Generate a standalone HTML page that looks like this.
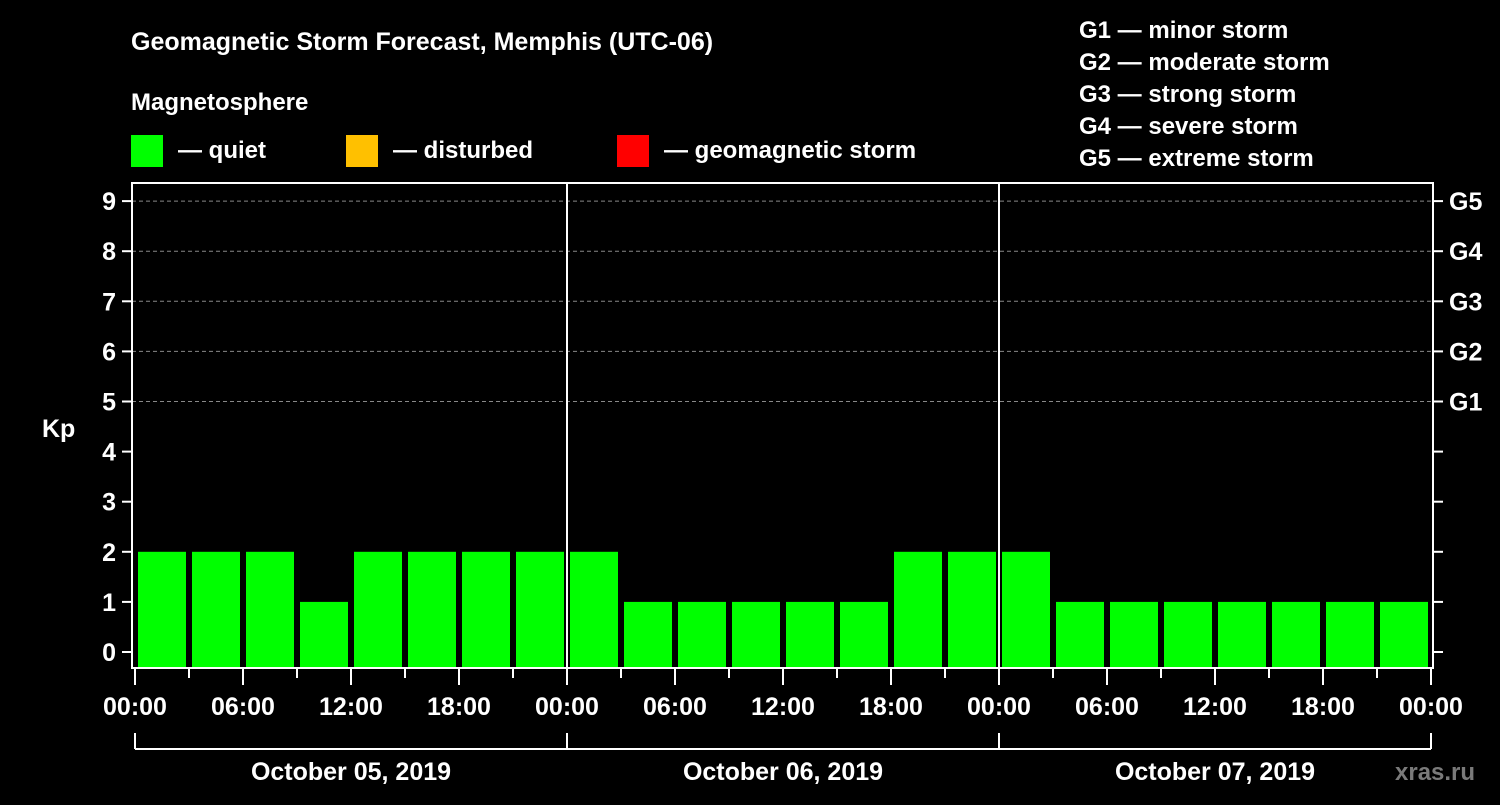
<!DOCTYPE html>
<html><head><meta charset="utf-8"><style>
html,body{margin:0;padding:0;background:#000;}
svg text{font-family:"Liberation Sans",Arial,sans-serif;font-weight:bold;fill:#fff;}
</style></head><body>
<svg width="1500" height="800" viewBox="0 0 1500 800">
<rect width="1500" height="800" fill="#000"/>
<text x="131" y="50" font-size="25">Geomagnetic Storm Forecast, Memphis (UTC-06)</text>
<text x="131" y="110" font-size="24">Magnetosphere</text>
<rect x="131" y="135" width="32" height="32" fill="#00ff00"/>
<text x="178" y="158" font-size="24">— quiet</text>
<rect x="346" y="135" width="32" height="32" fill="#ffc000"/>
<text x="393" y="158" font-size="24">— disturbed</text>
<rect x="617" y="135" width="32" height="32" fill="#ff0000"/>
<text x="664" y="158" font-size="24">— geomagnetic storm</text>
<g font-size="24">
<text x="1079" y="38">G1 — minor storm</text>
<text x="1079" y="70">G2 — moderate storm</text>
<text x="1079" y="102">G3 — strong storm</text>
<text x="1079" y="134">G4 — severe storm</text>
<text x="1079" y="166">G5 — extreme storm</text>
</g>
<text x="42" y="437" font-size="25">Kp</text>
<text x="1395" y="780" font-size="24" fill="#777" style="fill:#7a7a7a">xras.ru</text>
<g id="plot"></g>
</svg>
<script>
const kpValues=[2,2,2,1,2,2,2,2, 2,1,1,1,1,1,2,2, 2,1,1,1,1,1,1,1];
const yTicks=[0,1,2,3,4,5,6,7,8,9];
const gLabels=["G1","G2","G3","G4","G5"];
const gLevels=[5,6,7,8,9];
const xTickLabels=["00:00","06:00","12:00","18:00","00:00","06:00","12:00","18:00","00:00","06:00","12:00","18:00","00:00"];
const dayLabels=["October 05, 2019","October 06, 2019","October 07, 2019"];

const NS="http://www.w3.org/2000/svg";
const g=document.getElementById('plot');
const L=132,R=1433,T=183,B=668,X0=135,HOUR=18;
const yS=v=>652-v*50.1;
const xS=h=>X0+h*HOUR;
function mk(tag,a,p){const e=document.createElementNS(NS,tag);for(const k in a)e.setAttribute(k,a[k]);(p||g).appendChild(e);return e;}

gLevels.forEach(v=>{
 const l=mk('line',{x1:L,x2:R,y1:yS(v),y2:yS(v),stroke:'#888','stroke-dasharray':'4,3','stroke-width':1});
 
 
});
kpValues.forEach((v,i)=>{
 const x=xS(i*3)+3;
 const r=mk('rect',{x:x,y:yS(v),width:48,height:B-1-yS(v),fill:'#00ff00'});
 
 
});
for(let d=1;d<dayLabels.length;d++){
 const l=mk('line',{x1:xS(d*24),x2:xS(d*24),y1:T,y2:B,stroke:'#fff','stroke-width':2});
 
 
}
const frame=mk('rect',{x:L,y:T,width:R-L,height:B-T,fill:'none',stroke:'#fff','stroke-width':2});


yTicks.forEach(v=>{
 mk('line',{x1:L-10,x2:L,y1:yS(v),y2:yS(v),stroke:'#fff','stroke-width':2});
 mk('line',{x1:R,x2:R+10,y1:yS(v),y2:yS(v),stroke:'#fff','stroke-width':2});
 const t=mk('text',{x:L-16,y:yS(v)+9,'font-size':25,'text-anchor':'end'});
 t.textContent=v;
 
 
});
gLabels.forEach((s,i)=>{
 const t=mk('text',{x:1449,y:yS(gLevels[i])+9,'font-size':25});
 t.textContent=s;
 
 
});
for(let h=0;h<=72;h+=3){
 const major=h%6===0;
 mk('line',{x1:xS(h),x2:xS(h),y1:B,y2:major?685:678,stroke:'#fff','stroke-width':2});
}
xTickLabels.forEach((s,i)=>{
 const t=mk('text',{x:xS(i*6),y:715,'font-size':25,'text-anchor':'middle'});
 t.textContent=s;
 
 
});
const br=mk('line',{x1:xS(0),x2:xS(72),y1:749,y2:749,stroke:'#fff','stroke-width':2});


for(let d=0;d<=dayLabels.length;d++) mk('line',{x1:xS(d*24),x2:xS(d*24),y1:733,y2:749,stroke:'#fff','stroke-width':2});
dayLabels.forEach((s,i)=>{
 const t=mk('text',{x:xS(i*24+12),y:780,'font-size':25,'text-anchor':'middle'});
 t.textContent=s;
 
 
});
</script>
</body></html>
